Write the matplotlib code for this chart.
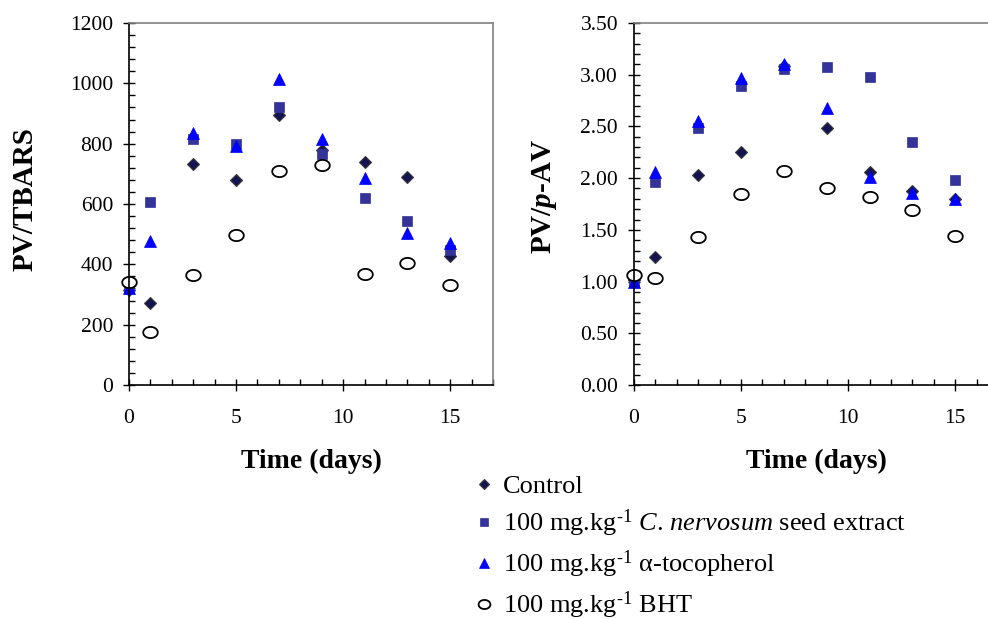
import matplotlib
matplotlib.use("Agg")
import matplotlib.pyplot as plt
import numpy as np
from matplotlib.path import Path
from matplotlib.lines import Line2D
from matplotlib.ticker import MultipleLocator, FormatStrFormatter

plt.rcParams["font.family"] = ["Liberation Serif", "DejaVu Serif"]
plt.rcParams["mathtext.fontset"] = "custom"
plt.rcParams["mathtext.rm"] = "Liberation Serif"
plt.rcParams["mathtext.it"] = "Liberation Serif:italic"
plt.rcParams["mathtext.bf"] = "Liberation Serif:bold"
plt.rcParams["mathtext.bfit"] = "Liberation Serif:bold:italic"

days = [0, 1, 3, 5, 7, 9, 11, 13, 15]

# PV/TBARS
tbars_control = [315, 273, 732, 680, 896, 780, 738, 691, 428]
tbars_extract = [324, 606, 816, 800, 920, 766, 620, 544, 446]
tbars_toco = [320, 479, 837, 791, 1014, 817, 687, 503, 470]
tbars_bht = [343, 177, 363, 498, 708, 730, 368, 404, 332]

# PV/p-AV
pav_control = [1.02, 1.24, 2.03, 2.25, 3.08, 2.48, 2.06, 1.88, 1.80]
pav_extract = [1.00, 1.96, 2.48, 2.89, 3.06, 3.07, 2.98, 2.35, 1.98]
pav_toco = [1.00, 2.06, 2.55, 2.97, 3.10, 2.68, 2.01, 1.86, 1.80]
pav_bht = [1.06, 1.03, 1.43, 1.85, 2.07, 1.90, 1.82, 1.69, 1.44]

labels = [
    "Control",
    r"100 mg.kg$^{\text{-1}}$ $\mathit{C.\,nervosum}$ seed extract",
    r"100 mg.kg$^{\text{-1}}$ α-tocopherol",
    r"100 mg.kg$^{\text{-1}}$ BHT",
]

# slightly flattened circle, like the original
t = np.linspace(0, 2 * np.pi, 60)
ellipse = Path(np.column_stack([1.3 * np.cos(t), np.sin(t)]), closed=True)

styles = [
    dict(marker="D", ms=6.0, mfc="#141452", mec="#3a3a3a", mew=0.8),
    dict(marker="s", ms=7.2, mfc="#333399", mec="#333399", mew=0.5),
    dict(marker="^", ms=8.5, mfc="#0000ff", mec="#0000ff", mew=0.5),
    dict(marker=ellipse, ms=10.5, mfc="white", mec="black", mew=1.3),
]

fig = plt.figure(figsize=(9.88, 6.19), dpi=100)
ax1 = fig.add_axes([129 / 988, 1 - 385 / 619, 364 / 988, 362 / 619])
ax2 = fig.add_axes([634 / 988, 1 - 385 / 619, 364 / 988, 362 / 619])


def style_axis(ax):
    ax.set_xlim(0, 17)
    ax.xaxis.set_major_locator(MultipleLocator(5))
    ax.xaxis.set_minor_locator(MultipleLocator(1))
    for s in ["left", "bottom"]:
        ax.spines[s].set_color("black")
        ax.spines[s].set_linewidth(1.2)
    for s in ["top", "right"]:
        ax.spines[s].set_color("#808080")
        ax.spines[s].set_linewidth(1.2)
    ax.tick_params(which="major", direction="inout", length=9, width=1, labelsize=15.5)
    ax.tick_params(axis="x", which="major", pad=13)
    ax.tick_params(axis="y", which="major", pad=7)
    ax.tick_params(which="minor", direction="in", length=4, width=1)
    ax.set_xlabel("Time (days)", fontsize=20, fontweight="bold", labelpad=15)


series1 = [tbars_control, tbars_extract, tbars_toco, tbars_bht]
series2 = [pav_control, pav_extract, pav_toco, pav_bht]
for ys, st in zip(series1, styles):
    ax1.plot(days, ys, ls="none", clip_on=False, **st)
for ys, st in zip(series2, styles):
    ax2.plot(days, ys, ls="none", clip_on=False, **st)

style_axis(ax1)
ax1.set_ylim(0, 1200)
ax1.yaxis.set_major_locator(MultipleLocator(200))
ax1.yaxis.set_minor_locator(MultipleLocator(40))
ax1.set_ylabel("PV/TBARS", fontsize=21, fontweight="bold")
ax1.yaxis.set_label_coords(-0.248, 0.515)

style_axis(ax2)
ax2.set_ylim(0, 3.5)
ax2.yaxis.set_major_locator(MultipleLocator(0.5))
ax2.yaxis.set_minor_locator(MultipleLocator(0.1))
ax2.yaxis.set_major_formatter(FormatStrFormatter("%.2f"))
ax2.set_ylabel(r"PV/$\mathbfit{p}$-AV", fontsize=21, fontweight="bold")
ax2.yaxis.set_label_coords(-0.205, 0.52)

handles = [Line2D([], [], ls="none", **st) for st in styles]
handles[0].set_markersize(5)
handles[1].set_markersize(6)
handles[2].set_markersize(7)
handles[3].set_markersize(8.5)
fig.legend(handles, labels, loc="upper left", bbox_to_anchor=(471 / 988, 1 - 475 / 619),
           frameon=False, fontsize=19, handletextpad=0.2, labelspacing=0.36,
           handlelength=1.0, borderaxespad=0, borderpad=0)

fig.savefig("out.png", dpi=100)
